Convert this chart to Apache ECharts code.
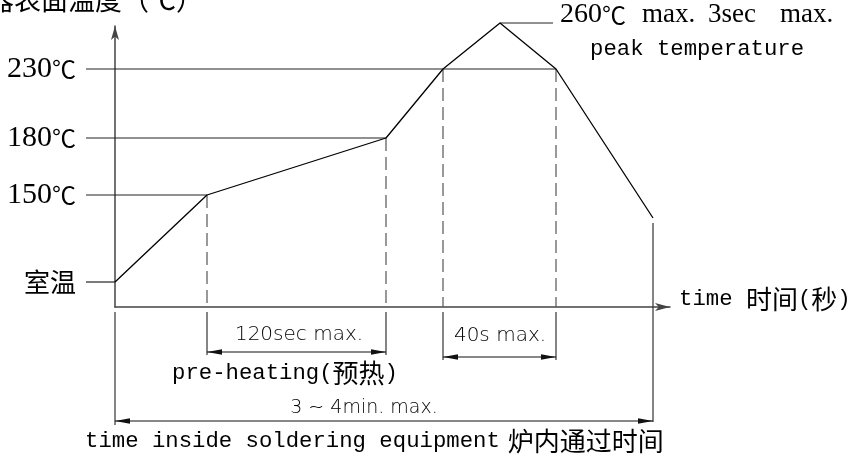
<!DOCTYPE html>
<html><head><meta charset="utf-8">
<script src="https://cdn.jsdelivr.net/npm/echarts@6/dist/echarts.min.js"></script>
<style>html,body{margin:0;padding:0;background:#fff}#c{width:848px;height:454px}</style>
</head><body><div id="c"></div>
<script>
// Schematic reflow profile (diagram units: x = time position, y = temperature position)
const profileX = [0, 92, 271, 328, 385, 441, 538];
const profileY = [25, 112, 169, 238, 284, 238, 89];

const tempNums = ['', '150', '180', '230'];
const tempNames = ['室温', '', '', ''];
const tempLevels = [25, 112, 169, 238];
const tempLineEnds = [0, 92, 271, 441];

const peakTexts = ['260', 'max.', '3sec', 'max.'];
const peakTextX = [445, 527, 593, 665];
const peakSub = 'peak temperature';

const dashedX = [92, 271, 328, 441];
const dashedTop = [112, 169, 238, 238];

const dimFrom = [92, 328, 0];
const dimTo = [271, 441, 538];
const dimY = [-45, -50, -114];
const dimLabels = ['120sec max.', '40s max.', '3 ~ 4min. max.'];

const yTitle = '器表面温度（℃）';
const xTitle = ['time ', '时间', '(', '秒', ')'];
const preHeat = ['pre-heating(', '预热', ')'];
const bottomTitle = ['time inside soldering equipment', '炉内通过时间'];

const SERIF = '"Liberation Serif","Noto Sans CJK SC",serif';
const MONO = '"Liberation Mono","Noto Sans CJK SC",monospace';
const CJK = '"Noto Sans CJK SC",sans-serif';
const SANS = '"DejaVu Sans",sans-serif';
const LINE = '#333';

const chart = echarts.init(document.getElementById('c'), null, {renderer: 'canvas'});

function renderItem(params, api) {
  if (params.dataIndex !== 0) return;
  const c = (x, y) => api.coord([x, y]);
  const ch = [];
  const line = (a, b, style) => ch.push({type: 'line', shape: {x1: a[0], y1: a[1], x2: b[0], y2: b[1]},
    style: Object.assign({stroke: LINE, lineWidth: 1.2}, style || {})});
  const text = (p, t, style) => ch.push({type: 'text', x: p[0], y: p[1],
    style: Object.assign({text: t, fill: '#000', verticalAlign: 'middle'}, style)});
  const arrowH = (tip, dir) => {
    ch.push({type: 'polygon', shape: {points: [[tip[0], tip[1]], [tip[0] + dir * 15, tip[1] - 2.8], [tip[0] + dir * 15, tip[1] + 2.8]]},
      style: {fill: '#111'}});
  };
  const degRich = (numSize, degSize) => ({n: {fontFamily: '"Liberation Serif",serif', fontSize: numSize, fill: '#000'},
               u: {fontFamily: CJK, fontSize: degSize, fill: '#000'}});

  // temperature reference lines + labels
  for (let i = 0; i < tempLevels.length; i++) {
    line(c(-29, tempLevels[i]), c(tempLineEnds[i], tempLevels[i]), {stroke: '#222'});
    const p = c(-39, tempLevels[i]);
    if (tempNames[i]) {
      text(p, tempNames[i], {font: '26px ' + CJK, align: 'right'});
    } else {
      text(p, '{n|' + tempNums[i] + '}{u|℃}', {align: 'right', rich: degRich(30, 24)});
    }
  }
  // peak leader + text
  line(c(profileX[4], profileY[4]), c(438, profileY[4]), {stroke: '#222'});
  text(c(peakTextX[0], 292), '{n|' + peakTexts[0] + '}{u|℃}', {align: 'left', rich: degRich(28, 24)});
  for (let i = 1; i < peakTexts.length; i++) {
    text(c(peakTextX[i], 292), peakTexts[i], {font: '27px ' + SERIF, align: 'left'});
  }
  text(c(475, 258), peakSub, {font: '22.3px ' + MONO, align: 'left'});

  // dashed verticals
  for (let i = 0; i < dashedX.length; i++) {
    line(c(dashedX[i], dashedTop[i]), c(dashedX[i], 0), {stroke: '#555', lineDash: [13, 6]});
  }
  // extension lines
  line(c(92, -5), c(92, -48));
  line(c(271, -5), c(271, -48));
  line(c(328, -5), c(328, -53));
  line(c(441, -5), c(441, -53));
  line(c(0, -5), c(0, -118));
  line(c(538, 84), c(538, -115));

  // dimension arrows
  for (let i = 0; i < dimFrom.length; i++) {
    const a = c(dimFrom[i], dimY[i]), b = c(dimTo[i], dimY[i]);
    line(a, b, {stroke: '#111'});
    arrowH(a, 1); arrowH(b, -1);
  }
  text(c(184, -28), dimLabels[0], {font: '200 20px ' + SANS, align: 'center'});
  text(c(385, -29), dimLabels[1], {font: '200 20px ' + SANS, align: 'center'});
  text(c(249, -101), dimLabels[2], {font: '200 19px ' + SANS, align: 'center'});

  const richMK = {m: {fontFamily: MONO, fontSize: 22.3, fill: '#000'}, k: {fontFamily: CJK, fontSize: 26, fill: '#000'},
                  kp: {fontFamily: CJK, fontSize: 26, fill: '#000', padding: [0, 0, 0, 8]}};
  text(c(57, -66), '{m|' + preHeat[0] + '}{k|' + preHeat[1] + '}{m|' + preHeat[2] + '}', {align: 'left', rich: richMK});
  text(c(-30, -134), '{m|' + bottomTitle[0] + '}{kp|' + bottomTitle[1] + '}', {align: 'left', rich: richMK});
  text(c(564, 8), '{m|' + xTitle[0] + '}{k|' + xTitle[1] + '}{m|' + xTitle[2] + '}{k|' + xTitle[3] + '}{m|' + xTitle[4] + '}', {align: 'left', rich: richMK});

  // y title
  text(c(88, 307), yTitle, {font: '27px ' + CJK, align: 'right'});

  return {type: 'group', children: ch};
}

chart.setOption({
  animation: false,
  backgroundColor: '#fff',
  grid: {left: 115, right: 178, top: 26, bottom: 147, containLabel: false, outerBoundsMode: 'none'},
  xAxis: {type: 'value', min: 0, max: 555,
    axisLine: {show: true, symbol: ['none', 'arrow'], symbolSize: [6, 15], lineStyle: {color: '#444', width: 1.5}},
    axisTick: {show: false}, axisLabel: {show: false}, splitLine: {show: false}},
  yAxis: {type: 'value', min: 0, max: 281,
    axisLine: {show: true, symbol: ['none', 'arrow'], symbolSize: [6, 14], lineStyle: {color: '#444', width: 1.5}},
    axisTick: {show: false}, axisLabel: {show: false}, splitLine: {show: false}},
  series: [
    {type: 'line', data: profileX.map((x, i) => [x, profileY[i]]), symbol: 'none', clip: false,
     lineStyle: {color: '#000', width: 1.3}, silent: true},
    {type: 'custom', data: [[0, 0]], renderItem: renderItem, clip: false, silent: true}
  ]
});
</script>
</body></html>
